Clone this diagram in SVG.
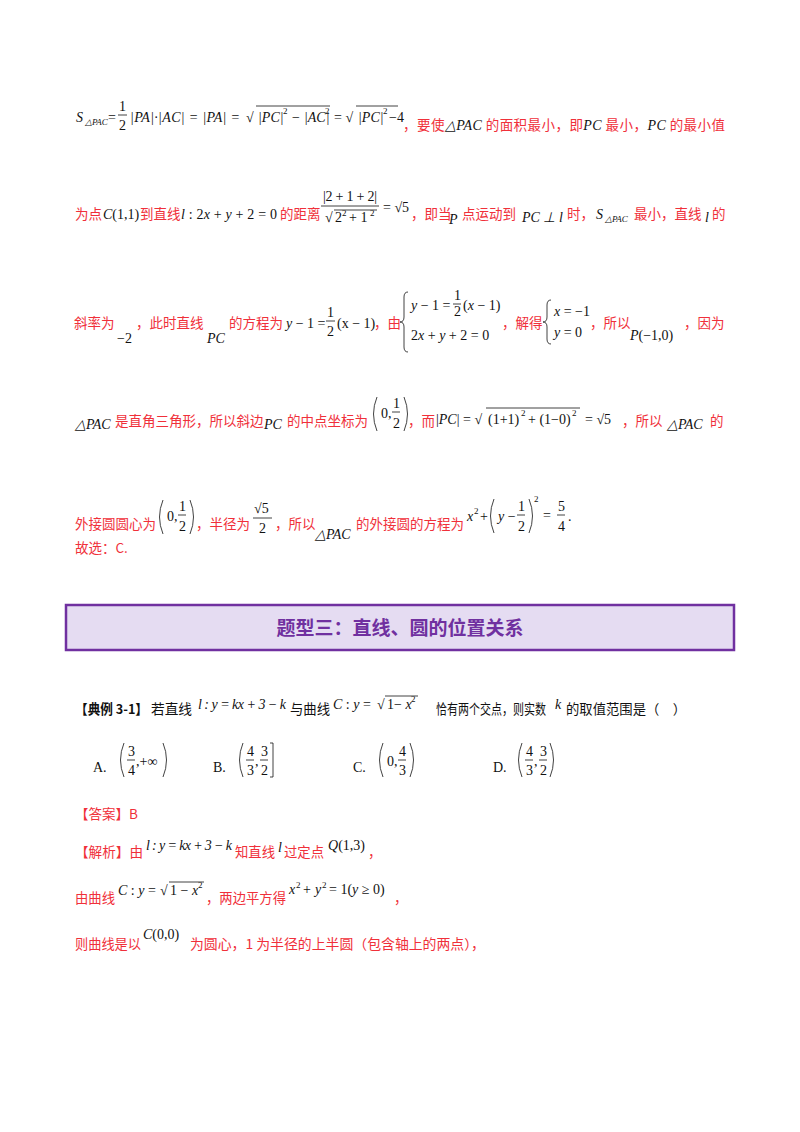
<svg xmlns="http://www.w3.org/2000/svg" width="800" height="1132" viewBox="0 0 800 1132">
<style>
.r{fill:#f0303a;font-family:"Noto Sans CJK SC",sans-serif;font-size:13.5px}
.k{fill:#111;font-family:"Noto Sans CJK SC",sans-serif;font-size:13.5px}
.m{fill:#111;font-family:"Liberation Serif",serif;font-size:14px}
.i{font-style:italic}
.s{font-size:9px}
.ln{stroke:#111;stroke-width:0.8;fill:none}
</style>
<rect width="800" height="1132" fill="#fff"/>
<!-- line 1 -->
<text class="m i" x="76" y="122">S</text><text class="m i s" x="85" y="125">△PAC</text>
<text class="m" x="108" y="122">=</text>
<text class="m" x="119" y="111">1</text><line class="ln" x1="118" y1="115" x2="127" y2="115"/><text class="m" x="119" y="130">2</text>
<text class="m i" x="130" y="122" textLength="110" lengthAdjust="spacing">|PA|·|AC| = |PA| =</text>
<text class="m" x="246" y="122">√</text>
<line class="ln" x1="256" y1="106" x2="330" y2="106"/>
<text class="m i" x="258" y="122">|PC|</text><text class="m s" x="283" y="114">2</text>
<text class="m i" x="291" y="122">− |AC|</text><text class="m s" x="325" y="114">2</text>
<text class="m" x="334" y="122">= √</text>
<line class="ln" x1="356" y1="106" x2="398" y2="106"/>
<text class="m i" x="358" y="122">|PC|</text><text class="m s" x="383" y="114">2</text>
<text class="m" x="389" y="122">−4</text>
<text class="r" x="403" y="130" textLength="322" lengthAdjust="spacing">，要使<tspan class="m i" fill="#f0303a">△PAC</tspan> 的面积最小，即<tspan class="m i" fill="#f0303a">PC</tspan> 最小，<tspan class="m i" fill="#f0303a">PC</tspan> 的最小值</text>
<!-- line 2 -->
<text class="r" x="75" y="219">为点</text>
<text class="m" x="103" y="219"><tspan class="i">C</tspan>(1,1)</text>
<text class="r" x="140" y="219">到直线</text>
<text class="m" x="181" y="219" textLength="96" lengthAdjust="spacing"><tspan class="i">l</tspan> : 2<tspan class="i">x</tspan> + <tspan class="i">y</tspan> + 2 = 0</text>
<text class="r" x="280" y="219">的距离</text>
<text class="m" x="323" y="201" textLength="54" lengthAdjust="spacing">|2 + 1 + 2|</text>
<line class="ln" x1="321" y1="206" x2="379" y2="206"/>
<text class="m" x="325" y="222">√</text>
<line class="ln" x1="334" y1="210" x2="377" y2="210"/>
<text class="m" x="335" y="222">2</text><text class="m s" x="342" y="216">2</text>
<text class="m" x="349" y="222">+ 1</text><text class="m s" x="370" y="216">2</text>
<text class="m" x="383" y="212">= √5</text>
<text class="r" x="411" y="219">，即当</text>
<text class="m i" x="449" y="224">P</text>
<text class="r" x="462" y="219">点运动到</text>
<text class="m i" x="522" y="222">PC ⊥ l</text>
<text class="r" x="567" y="219">时，</text>
<text class="m i" x="596" y="219">S</text><text class="m i s" x="605" y="222">△PAC</text>
<text class="r" x="634" y="219">最小，直线</text>
<text class="m i" x="705" y="222">l</text>
<text class="r" x="712" y="219">的</text>
<!-- line 3 -->
<text class="r" x="74" y="328">斜率为</text>
<text class="m" x="117" y="343">−2</text>
<text class="r" x="136" y="328">，此时直线</text>
<text class="m i" x="207" y="343">PC</text>
<text class="r" x="229" y="328">的方程为</text>
<text class="m" x="286" y="328"><tspan class="i">y</tspan> − 1 =</text>
<text class="m" x="327" y="317">1</text><line class="ln" x1="326" y1="321" x2="335" y2="321"/><text class="m" x="327" y="336">2</text>
<text class="m" x="337" y="328">(x − 1)</text>
<text class="r" x="374" y="328">，由</text>
<path class="ln" d="M408 292 q-4 0 -4 5 v20 q0 5 -4 5 q4 0 4 5 v20 q0 5 4 5"/>
<text class="m" x="411" y="310"><tspan class="i">y</tspan> − 1 =</text>
<text class="m" x="454" y="300">1</text><line class="ln" x1="453" y1="304" x2="461" y2="304"/><text class="m" x="454" y="316">2</text>
<text class="m" x="463" y="310">(<tspan class="i">x</tspan> − 1)</text>
<text class="m" x="411" y="340">2<tspan class="i">x</tspan> + <tspan class="i">y</tspan> + 2 = 0</text>
<text class="r" x="502" y="328">，解得</text>
<path class="ln" d="M551 300 q-4 0 -4 5 v12 q0 5 -4 5 q4 0 4 5 v12 q0 5 4 5"/>
<text class="m" x="554" y="316"><tspan class="i">x</tspan> = −1</text>
<text class="m" x="554" y="337"><tspan class="i">y</tspan> = 0</text>
<text class="r" x="590" y="328">，所以</text>
<text class="m" x="630" y="340"><tspan class="i">P</tspan>(−1,0)</text>
<text class="r" x="684" y="328">，因为</text>
<!-- line 4 -->
<text class="m i" x="75" y="429">△PAC</text>
<text class="r" x="115" y="426">是直角三角形，所以斜边</text>
<text class="m i" x="264" y="429">PC</text>
<text class="r" x="287" y="426">的中点坐标为</text>
<path class="ln" d="M377 397 q-7 17 0 34"/>
<text class="m" x="381" y="418">0,</text>
<text class="m" x="393" y="408">1</text><line class="ln" x1="392" y1="412" x2="400" y2="412"/><text class="m" x="393" y="428">2</text>
<path class="ln" d="M404 397 q7 17 0 34"/>
<text class="r" x="408" y="426">，而</text>
<text class="m" x="436" y="424">|<tspan class="i">PC</tspan>| = √</text>
<line class="ln" x1="486" y1="408" x2="580" y2="408"/>
<text class="m" x="488" y="424">(1+1)</text><text class="m s" x="521" y="416">2</text>
<text class="m" x="528" y="424">+ (1−0)</text><text class="m s" x="572" y="416">2</text>
<text class="m" x="585" y="424">= √5</text>
<text class="r" x="622" y="426">，所以</text>
<text class="m i" x="667" y="429">△PAC</text>
<text class="r" x="710" y="426">的</text>
<!-- line 5 -->
<text class="r" x="75" y="529">外接圆圆心为</text>
<path class="ln" d="M163 500 q-7 17 0 34"/>
<text class="m" x="167" y="521">0,</text>
<text class="m" x="179" y="511">1</text><line class="ln" x1="178" y1="515" x2="186" y2="515"/><text class="m" x="179" y="531">2</text>
<path class="ln" d="M190 500 q7 17 0 34"/>
<text class="r" x="196" y="529">，半径为</text>
<text class="m" x="254" y="513">√5</text><line class="ln" x1="253" y1="518" x2="272" y2="518"/><text class="m" x="259" y="533">2</text>
<text class="r" x="275" y="529">，所以</text>
<text class="m i" x="315" y="539">△PAC</text>
<text class="r" x="356" y="529">的外接圆的方程为</text>
<text class="m i" x="467" y="521">x</text><text class="m s" x="474" y="514">2</text>
<text class="m" x="480" y="521">+</text>
<path class="ln" d="M494 499 q-7 17 0 34"/>
<text class="m" x="498" y="521"><tspan class="i">y</tspan> −</text>
<text class="m" x="518" y="511">1</text><line class="ln" x1="517" y1="515" x2="525" y2="515"/><text class="m" x="518" y="531">2</text>
<path class="ln" d="M529 499 q7 17 0 34"/>
<text class="m s" x="534" y="502">2</text>
<text class="m" x="543" y="520">=</text>
<text class="m" x="558" y="511">5</text><line class="ln" x1="557" y1="515" x2="565" y2="515"/><text class="m" x="558" y="531">4</text>
<text class="m" x="568" y="521">.</text>
<text class="r" x="75" y="553">故选：C.</text>
<!-- header -->
<rect x="66" y="605" width="668" height="45" fill="#e5dcf2" stroke="#7030a0" stroke-width="2.5"/>
<text x="400" y="635" text-anchor="middle" fill="#7030a0" font-family="Noto Sans CJK SC,sans-serif" font-size="19" font-weight="bold">题型三：直线、圆的位置关系</text>
<!-- problem -->
<text class="k" x="75" y="714" font-weight="bold" textLength="73" lengthAdjust="spacingAndGlyphs">【典例 3-1】</text>
<text class="k" x="151" y="714" textLength="41" lengthAdjust="spacingAndGlyphs">若直线</text>
<text class="m i" x="198" y="709" font-size="12" textLength="88" lengthAdjust="spacing">l : y = kx + 3 − k</text>
<text class="k" x="290" y="714" textLength="40" lengthAdjust="spacingAndGlyphs">与曲线</text>
<text class="m" x="333" y="709" font-size="13"><tspan class="i">C</tspan> : <tspan class="i">y</tspan> =</text>
<text class="m" x="377" y="709" font-size="13">√</text>
<line class="ln" x1="385" y1="696" x2="418" y2="696"/>
<text class="m" x="387" y="709" font-size="12">1− <tspan class="i">x</tspan></text>
<text class="m s" x="411" y="702">2</text>
<text class="k" x="436" y="714" textLength="110" lengthAdjust="spacingAndGlyphs">恰有两个交点，则实数</text>
<text class="m i" x="555" y="709">k</text>
<text class="k" x="566" y="714" textLength="120" lengthAdjust="spacingAndGlyphs">的取值范围是（　）</text>
<text class="m" x="93" y="772">A.</text>
<path class="ln" d="M124 743 q-7 17 0 34"/>
<text class="m" x="128" y="756">3</text><line class="ln" x1="127" y1="760" x2="135" y2="760"/><text class="m" x="128" y="775">4</text>
<text class="m" x="136" y="766">,+∞</text>
<path class="ln" d="M163 743 q7 17 0 34"/>
<text class="m" x="213" y="772">B.</text>
<path class="ln" d="M243 743 q-7 17 0 34"/>
<text class="m" x="247" y="756">4</text><line class="ln" x1="246" y1="760" x2="254" y2="760"/><text class="m" x="247" y="775">3</text>
<text class="m" x="255" y="766">,</text>
<text class="m" x="261" y="756">3</text><line class="ln" x1="260" y1="760" x2="268" y2="760"/><text class="m" x="261" y="775">2</text>
<path class="ln" d="M270 743 h3 v34 h-3"/>
<text class="m" x="353" y="772">C.</text>
<path class="ln" d="M383 743 q-7 17 0 34"/>
<text class="m" x="387" y="766">0,</text>
<text class="m" x="399" y="756">4</text><line class="ln" x1="398" y1="760" x2="406" y2="760"/><text class="m" x="399" y="775">3</text>
<path class="ln" d="M410 743 q7 17 0 34"/>
<text class="m" x="493" y="772">D.</text>
<path class="ln" d="M522 743 q-7 17 0 34"/>
<text class="m" x="526" y="756">4</text><line class="ln" x1="525" y1="760" x2="533" y2="760"/><text class="m" x="526" y="775">3</text>
<text class="m" x="534" y="766">,</text>
<text class="m" x="540" y="756">3</text><line class="ln" x1="539" y1="760" x2="547" y2="760"/><text class="m" x="540" y="775">2</text>
<path class="ln" d="M550 743 q7 17 0 34"/>
<!-- answer -->
<text class="r" x="75" y="819">【答案】B</text>
<text class="r" x="75" y="857" textLength="68" lengthAdjust="spacingAndGlyphs">【解析】由</text>
<text class="m i" x="146" y="850" font-size="12" textLength="86" lengthAdjust="spacing">l : y = kx + 3 − k</text>
<text class="r" x="235" y="857" textLength="40" lengthAdjust="spacingAndGlyphs">知直线</text>
<text class="m i" x="278" y="852">l</text>
<text class="r" x="284" y="857" textLength="40" lengthAdjust="spacingAndGlyphs">过定点</text>
<text class="m" x="328" y="850"><tspan class="i">Q</tspan>(1,3)</text>
<text class="r" x="368" y="857">，</text>
<text class="r" x="75" y="903" textLength="40" lengthAdjust="spacingAndGlyphs">由曲线</text>
<text class="m" x="118" y="895"><tspan class="i">C</tspan> : <tspan class="i">y</tspan> =</text>
<text class="m" x="160" y="895">√</text>
<line class="ln" x1="169" y1="882" x2="204" y2="882"/>
<text class="m" x="170" y="895">1 − <tspan class="i">x</tspan></text>
<text class="m s" x="198" y="888">2</text>
<text class="r" x="206" y="903" textLength="80" lengthAdjust="spacingAndGlyphs">，两边平方得</text>
<text class="m i" x="289" y="894">x</text><text class="m s" x="296" y="888">2</text>
<text class="m" x="303" y="894">+</text>
<text class="m i" x="315" y="894">y</text><text class="m s" x="322" y="888">2</text>
<text class="m" x="329" y="894">= 1(<tspan class="i">y</tspan> ≥ 0)</text>
<text class="r" x="394" y="903">，</text>
<text class="r" x="75" y="949" textLength="66" lengthAdjust="spacingAndGlyphs">则曲线是以</text>
<text class="m" x="143" y="939" font-size="15"><tspan class="i">C</tspan>(0,0)</text>
<text class="r" x="190" y="949" textLength="295" lengthAdjust="spacingAndGlyphs">为圆心，1 为半径的上半圆（包含轴上的两点），</text>
</svg>
